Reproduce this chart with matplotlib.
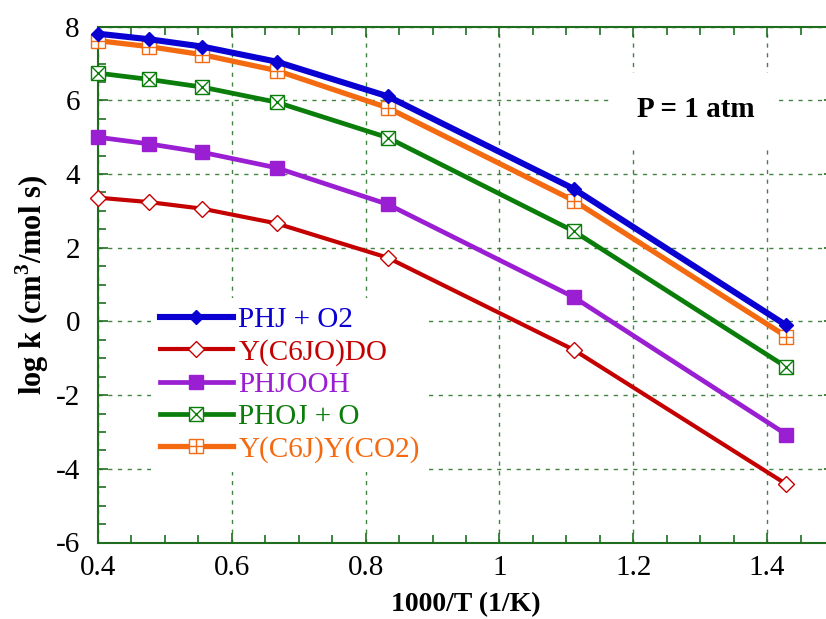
import matplotlib
matplotlib.use("Agg")
import matplotlib.pyplot as plt
from matplotlib.ticker import MultipleLocator

plt.rcParams['font.family'] = ['Liberation Serif', 'DejaVu Serif']
plt.rcParams['mathtext.fontset'] = 'custom'
plt.rcParams['mathtext.rm'] = 'Liberation Serif'
plt.rcParams['mathtext.bf'] = 'Liberation Serif:bold'
plt.rcParams['axes.unicode_minus'] = False

# 1000/T for T = 2500, 2100, 1800, 1500, 1200, 900, 700 K
inv_T = [0.400, 0.476, 0.556, 0.667, 0.833, 1.111, 1.429]

phj_o2 = [7.81, 7.66, 7.46, 7.05, 6.11, 3.60, -0.11]
y_c6jo_do = [3.36, 3.24, 3.06, 2.66, 1.73, -0.77, -4.42]
phjooh = [5.00, 4.82, 4.59, 4.17, 3.18, 0.66, -3.07]
phoj_o = [6.74, 6.57, 6.36, 5.95, 4.99, 2.45, -1.24]
y_c6j_y_co2 = [7.62, 7.46, 7.24, 6.81, 5.80, 3.28, -0.41]

labels = ['PHJ + O2', 'Y(C6JO)DO', 'PHJOOH', 'PHOJ + O', 'Y(C6J)Y(CO2)']
xtick_vals = [0.4, 0.6, 0.8, 1.0, 1.2, 1.4]
xtick_text = ['0.4', '0.6', '0.8', '1', '1.2', '1.4']

BLUE = '#0a00d2'
RED = '#c40000'
PURPLE = '#9a1ed2'
GREEN = '#0a7d0a'
ORANGE = '#f46a10'
AXC = '#1f6e1f'

fig = plt.figure(figsize=(8.26, 6.19), dpi=100)
W, H = 826.0, 619.0
x0_px, x1_px = 98.0, 834.0
top_px, bot_px = 26.7, 542.5
ax = fig.add_axes([x0_px / W, 1 - bot_px / H, (x1_px - x0_px) / W, (bot_px - top_px) / H])

ax.set_xlim(0.4, 1.5)
ax.set_ylim(-6, 8)

# series
h_blue, = ax.plot(inv_T, phj_o2, color=BLUE, lw=4.4, marker='D',
                  ms=7, mfc=BLUE, mec=BLUE, zorder=6, clip_on=False)
h_red, = ax.plot(inv_T, y_c6jo_do, color=RED, lw=3.0, marker='D', ms=8.5,
                 mfc='white', mec=RED, mew=1.0, zorder=3, clip_on=False)
h_pur, = ax.plot(inv_T, phjooh, color=PURPLE, lw=3.4, marker='s', ms=10.5,
                 mfc=PURPLE, mec=PURPLE, zorder=3, clip_on=False)
h_grn, = ax.plot(inv_T, phoj_o, color=GREEN, lw=3.4, marker='s', ms=10,
                 mfc='white', mec=GREEN, mew=1.0, zorder=4, clip_on=False)
h_grn_x, = ax.plot(inv_T, phoj_o, ls='none', marker='x', ms=10, mec=GREEN,
                   mew=1.0, zorder=4.1, clip_on=False)
h_org, = ax.plot(inv_T, y_c6j_y_co2, color=ORANGE, lw=3.8, marker='s', ms=10,
                 mfc='white', mec=ORANGE, mew=1.0, zorder=5, clip_on=False)
h_org_p, = ax.plot(inv_T, y_c6j_y_co2, ls='none', marker='+', ms=10, mec=ORANGE,
                   mew=1.0, zorder=5.1, clip_on=False)

# axes styling
ax.set_xticks(xtick_vals)
ax.set_xticklabels(xtick_text)
ax.xaxis.set_minor_locator(MultipleLocator(0.05))
ax.yaxis.set_major_locator(MultipleLocator(2))
ax.yaxis.set_minor_locator(MultipleLocator(0.5))
ax.tick_params(which='both', direction='in', top=True, right=True, color=AXC,
               labelsize=21, width=1.2)
ax.tick_params(which='major', length=7)
ax.tick_params(axis='x', which='major', pad=9)
ax.tick_params(axis='y', which='major', pad=13)
ax.tick_params(which='minor', length=6)
for s in ax.spines.values():
    s.set_color(AXC)
    s.set_linewidth(1.5)

ax.grid(True, which='major', color=AXC, ls=(0, (3, 4)), lw=1.0, alpha=0.85)
ax.set_axisbelow(True)

ax.set_xlabel('1000/T (1/K)', fontsize=20, fontweight='bold', labelpad=8)
ax.set_ylabel(r'log k (cm$^\mathbf{3}$/mol s)', fontsize=22, fontweight='bold', labelpad=3)

ax.text(1.293, 5.75, 'P = 1 atm', fontsize=21, fontweight='bold', ha='center',
        va='center', zorder=2,
        bbox=dict(facecolor='white', edgecolor='none', boxstyle='square,pad=0.8'))

leg = ax.legend([h_blue, h_red, h_pur, (h_grn, h_grn_x), (h_org, h_org_p)], labels,
                loc='upper left', bbox_to_anchor=(0.052, 0.503), fontsize=21,
                frameon=True, fancybox=False, framealpha=1, edgecolor='none',
                handlelength=2.5, handletextpad=0.2, labelspacing=0.2,
                borderpad=0.3, numpoints=1)
for t, c in zip(leg.get_texts(), [BLUE, RED, PURPLE, GREEN, ORANGE]):
    t.set_color(c)
leg.set_zorder(7)

fig.savefig('out.png', dpi=100)
